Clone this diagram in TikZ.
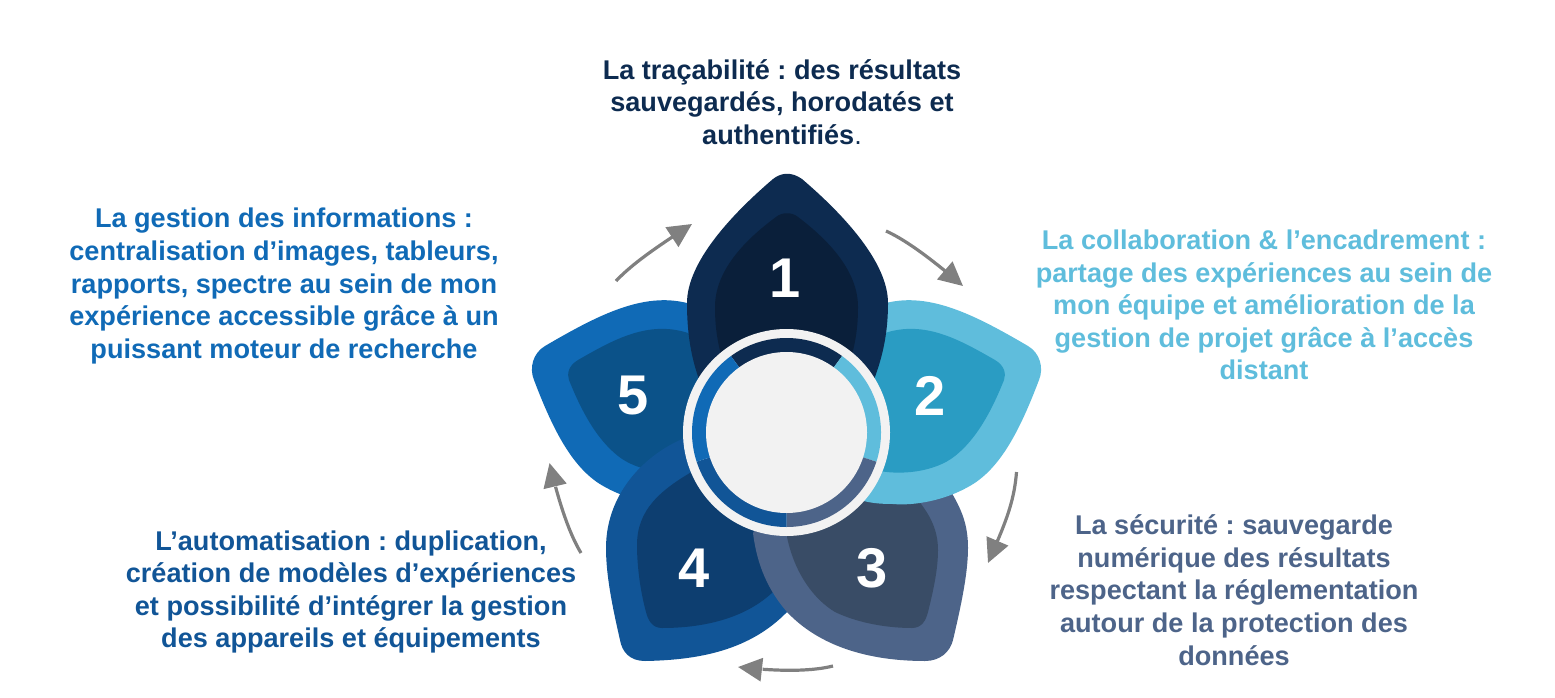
\documentclass[tikz,border=0pt]{standalone}
\usepackage{fontspec}
\setmainfont{Liberation Sans}
\usetikzlibrary{arrows.meta,bending}
\definecolor{cA}{HTML}{0D2B50}\definecolor{cAi}{HTML}{0A1F3A}
\definecolor{cB}{HTML}{5FBDDC}\definecolor{cBi}{HTML}{2A9CC3}
\definecolor{cC}{HTML}{4D6489}\definecolor{cCi}{HTML}{394C66}
\definecolor{cD}{HTML}{115597}\definecolor{cDi}{HTML}{0D3E70}
\definecolor{cE}{HTML}{106AB6}\definecolor{cEi}{HTML}{0B5289}
\definecolor{cHub}{HTML}{F2F2F2}
\definecolor{cArrow}{HTML}{808080}
\tikzset{
  label/.style={font=\fontsize{27.1}{32.6}\selectfont\bfseries,align=center,inner sep=0pt},
  num/.style={font=\fontsize{56}{56}\selectfont\bfseries,text=white,inner sep=0pt},
  flow/.style={draw=cArrow,line width=3.2pt,-{Triangle[length=24pt,width=23pt,flex=0]}},
}
\frenchspacing
\begin{document}
\begin{tikzpicture}[x=1pt,y=-1pt]
\useasboundingbox (0,0) rectangle (1555,698);
% petal 5
\fill[cE] (687,303) .. controls (643,292) and (598,315) .. (545,346) .. controls (533,353) and (529,368) .. (534,380) .. controls (553,430) and (573,470) .. (605,487) .. controls (628,500) and (658,506) .. (680,504) .. controls (693,504) and (703,503) .. (713,500) -- (787,430) -- cycle;
\fill[cEi] (688,333) .. controls (648,320) and (613,340) .. (578,360) .. controls (568,366) and (567,374) .. (569,380) .. controls (583,415) and (598,440) .. (618,456) .. controls (638,472) and (673,476) .. (698,470) -- (787,430) -- cycle;
% petal 4
\fill[cD] (787,612) .. controls (750,650) and (700,660) .. (645,661) .. controls (630,661) and (622,652) .. (620,640) .. controls (612,605) and (606,575) .. (606,548) .. controls (606,490) and (650,450) .. (690,436) -- (790,430) -- cycle;
\fill[cDi] (775,590) .. controls (745,620) and (700,628) .. (662,628) .. controls (652,628) and (648,620) .. (646,612) .. controls (640,590) and (637,565) .. (637,545) .. controls (637,510) and (660,490) .. (695,470) -- (790,450) -- (790,560) -- cycle;
% petal 3
\fill[cC] (753,533) .. controls (757,565) and (768,590) .. (787,612) .. controls (820,647) and (870,661) .. (925,661) .. controls (940,661) and (950,652) .. (953,640) .. controls (960,610) and (968,575) .. (968,548) .. controls (968,525) and (962,510) .. (950,490) -- (800,440) -- cycle;
\fill[cCi] (787,537) .. controls (795,575) and (815,600) .. (835,612) .. controls (860,624) and (890,628) .. (912,628) .. controls (922,628) and (926,620) .. (928,612) .. controls (933,592) and (938,570) .. (938,550) .. controls (938,530) and (930,515) .. (918,500) -- (800,450) -- cycle;
% petal 2
\fill[cB] (886,303) .. controls (930,292) and (975,315) .. (1028,346) .. controls (1040,353) and (1044,368) .. (1039,380) .. controls (1020,430) and (1000,470) .. (968,487) .. controls (945,500) and (915,506) .. (893,504) .. controls (880,504) and (870,503) .. (860,500) -- (786,430) -- cycle;
\fill[cBi] (885,333) .. controls (925,320) and (960,340) .. (995,360) .. controls (1005,366) and (1006,374) .. (1004,380) .. controls (990,415) and (975,440) .. (955,456) .. controls (935,472) and (900,476) .. (875,470) -- (786,430) -- cycle;
% petal 1
\fill[cA] (773,179) .. controls (782,172) and (792,172) .. (802,179) .. controls (843,214) and (888,262) .. (888,303) .. controls (888,340) and (880,365) .. (870,390) -- (786,450) -- (703,390) .. controls (693,365) and (687,340) .. (687,303) .. controls (687,262) and (732,214) .. (773,179) -- cycle;
\fill[cAi] (776,217) .. controls (782,212) and (792,212) .. (798,217) .. controls (835,245) and (858,275) .. (858,307) .. controls (858,330) and (855,345) .. (848,370) -- (786,420) -- (725,370) .. controls (718,345) and (715,330) .. (715,307) .. controls (715,275) and (738,245) .. (776,217) -- cycle;
% hub
\fill[cHub] (786.5,432.5) circle[radius=103.5];
\begin{scope}[shift={(786.5,432.5)},y=1pt]
\foreach \a/\b/\c in {54/126/cA,-18/54/cB,-90/-18/cC,-162/-90/cD,126/198/cE}{
  \fill[\c] (\a:94.5) arc[start angle=\a,end angle=\b,radius=94.5] -- (\b:80) arc[start angle=\b,end angle=\a,radius=80] -- cycle;
}
\end{scope}
\node[circle,fill=cHub,minimum size=161pt,inner sep=0pt] (hub) at (786.5,432.5) {};
% numbers
\node[num] (n1) at (785,278) {1};
\node[num] (n2) at (930,396) {2};
\node[num] (n3) at (872,568) {3};
\node[num] (n4) at (694,568) {4};
\node[num] (n5) at (633,396) {5};
% flow arrows
\coordinate (a1s) at (886,231); \coordinate (a1e) at (963,286);
\coordinate (a2s) at (1016.5,472); \coordinate (a2e) at (988,563);
\coordinate (a3s) at (833,666); \coordinate (a3e) at (738,667);
\coordinate (a4s) at (581,553); \coordinate (a4e) at (549.5,463);
\coordinate (a5s) at (616,281); \coordinate (a5e) at (692,224);
\draw[flow] (a1s) .. controls (908,241) and (935,262) .. (a1e);
\draw[flow] (a2s) .. controls (1014,505) and (1003,528) .. (a2e);
\draw[flow] (a3s) .. controls (805,673) and (765,670) .. (a3e);
\draw[flow] (a4s) .. controls (566,528) and (556,490) .. (a4e);
\draw[flow] (a5s) .. controls (634,262) and (660,245) .. (a5e);
% labels
\node[label,text=cA] (t1) at (782,102) {La traçabilité : des résultats\\sauvegardés, horodatés et\\authentifiés{\mdseries .}};
\node[label,text=cB] (t2) at (1264,305) {La collaboration \& l’encadrement :\\partage des expériences au sein de\\mon équipe et amélioration de la\\gestion de projet grâce à l’accès\\distant};
\node[label,text=cC] (t3) at (1234,590) {La sécurité : sauvegarde\\numérique des résultats\\respectant la réglementation\\autour de la protection des\\données};
\node[label,text=cD] (t4) at (351,592) {L’automatisation : duplication,\\création de modèles d’expériences\\et possibilité d’intégrer la gestion\\des appareils et équipements};
\node[label,text=cE] (t5) at (284,286) {La gestion des informations :\\centralisation d’images, tableurs,\\rapports, spectre au sein de mon\\expérience accessible grâce à un\\puissant moteur de recherche};
\end{tikzpicture}
\end{document}
